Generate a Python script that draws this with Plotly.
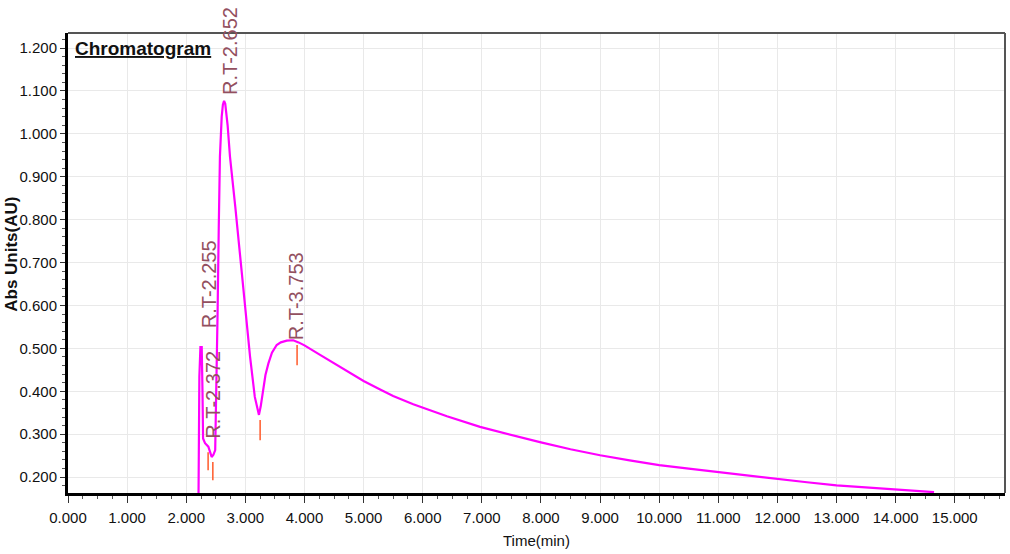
import plotly.graph_objects as go

# ---- data ----
time_min = [2.205, 2.222, 2.240, 2.262, 2.275, 2.285, 2.318, 2.374, 2.43, 2.46, 2.49, 2.51, 2.53,
            2.55, 2.57, 2.60, 2.62, 2.64, 2.66, 2.70, 2.74, 2.83, 2.91, 3.00, 3.08, 3.16, 3.20,
            3.23, 3.26, 3.30, 3.34, 3.39, 3.45, 3.53, 3.60, 3.70, 3.81, 3.90, 4.00, 4.25, 4.50,
            4.75, 5.00, 5.28, 5.50, 5.84, 6.00, 6.41, 6.97, 7.53, 8.00, 8.50, 9.00, 9.50, 10.00,
            10.50, 11.00, 11.50, 12.00, 12.50, 13.00, 13.50, 14.00, 14.30, 14.65]
abs_au = [0.10, 0.434, 0.503, 0.503, 0.40, 0.290, 0.279, 0.271, 0.247, 0.252, 0.263, 0.40, 0.58,
          0.78, 0.947, 1.04, 1.068, 1.077, 1.07, 1.02, 0.947, 0.83, 0.713, 0.597, 0.48, 0.387, 0.36,
          0.345, 0.365, 0.403, 0.438, 0.465, 0.49, 0.508, 0.514, 0.518, 0.519, 0.514, 0.507, 0.486, 0.465,
          0.444, 0.424, 0.404, 0.389, 0.370, 0.362, 0.342, 0.317, 0.297, 0.281, 0.265, 0.251, 0.239, 0.228,
          0.220, 0.212, 0.204, 0.195, 0.188, 0.181, 0.176, 0.171, 0.168, 0.165]

peak_labels = ["R.T-2.255", "R.T-2.372", "R.T-2.652", "R.T-3.753"]
label_x = [2.39, 2.46, 2.74, 3.86]
label_y = [0.543, 0.286, 1.086, 0.515]

marker_x = [2.37, 2.45, 3.25, 3.875]
marker_y0 = [0.216, 0.193, 0.286, 0.461]
marker_y1 = [0.258, 0.235, 0.333, 0.508]

x_ticks = [i * 1.0 for i in range(16)]
x_ticktext = [f"{v:.3f}" for v in x_ticks]
y_ticks = [0.2, 0.3, 0.4, 0.5, 0.6, 0.7, 0.8, 0.9, 1.0, 1.1, 1.2]
y_ticktext = [f"{v:.3f}" for v in y_ticks]

FONT = "Liberation Sans, Arial, sans-serif"

fig = go.Figure()
fig.add_trace(go.Scatter(x=time_min, y=abs_au, mode="lines",
                         line=dict(color="#ff00ff", width=2.2), showlegend=False))

# peak marker ticks
for mx, a, b in zip(marker_x, marker_y0, marker_y1):
    fig.add_trace(go.Scatter(x=[mx, mx], y=[a, b], mode="lines",
                             line=dict(color="#ff5a2a", width=1.5), showlegend=False))

for txt, lx, ly in zip(peak_labels, label_x, label_y):
    fig.add_annotation(x=lx, y=ly, text=txt, textangle=-90, showarrow=False,
                       xanchor="center", yanchor="bottom",
                       font=dict(family=FONT, size=20, color="#93505f"))

fig.add_annotation(xref="paper", yref="paper", x=0.0053, y=0.993,
                   text="<b><u>Chromatogram</u></b>", showarrow=False,
                   xanchor="left", yanchor="top",
                   font=dict(family=FONT, size=19, color="#111111"))

fig.add_annotation(xref="paper", yref="paper", x=-0.0598, y=0.52,
                   text="<b>Abs Units(AU)</b>", textangle=-90, showarrow=False,
                   xanchor="center", yanchor="middle",
                   font=dict(family=FONT, size=17, color="#111111"))

fig.add_annotation(xref="paper", yref="paper", x=0.5005, y=-0.104,
                   text="Time(min)", showarrow=False,
                   xanchor="center", yanchor="middle",
                   font=dict(family=FONT, size=15, color="#111111"))

# top / right frame
fig.add_shape(type="line", xref="paper", yref="paper", x0=0, x1=1, y0=1, y1=1,
              line=dict(color="#555555", width=2))
fig.add_shape(type="line", xref="paper", yref="paper", x0=1, x1=1, y0=0, y1=1,
              line=dict(color="#555555", width=2))

fig.update_layout(
    width=1010, height=554,
    margin=dict(l=68, r=5, t=33, b=61, autoexpand=False),
    paper_bgcolor="white", plot_bgcolor="white",
    font=dict(family=FONT, size=15, color="#111111"),
    xaxis=dict(range=[0, 15.85], tickvals=x_ticks, ticktext=x_ticktext,
               showgrid=True, gridcolor="#e9e9e9", gridwidth=1,
               showline=True, linecolor="black", linewidth=3,
               ticks="outside", ticklen=7, tickcolor="#333333",
               ticklabelstandoff=2,
               minor=dict(dtick=0.25, ticks="outside", ticklen=3, tickcolor="#555555", showgrid=False),
               zeroline=False, automargin=False,
               tickfont=dict(family=FONT, size=15)),
    yaxis=dict(range=[0.163, 1.235], tickvals=y_ticks, ticktext=y_ticktext,
               showgrid=True, gridcolor="#e9e9e9", gridwidth=1,
               showline=True, linecolor="black", linewidth=3,
               ticks="outside", ticklen=5, tickcolor="#333333",
               minor=dict(dtick=0.02, tick0=0.2, ticks="outside", ticklen=3, tickcolor="#555555", showgrid=False),
               zeroline=False, automargin=False,
               tickfont=dict(family=FONT, size=15)),
)

fig.write_html("out.html", config={"displayModeBar": False},
               post_script="document.body.style.margin='0';document.body.style.overflow='hidden';")
